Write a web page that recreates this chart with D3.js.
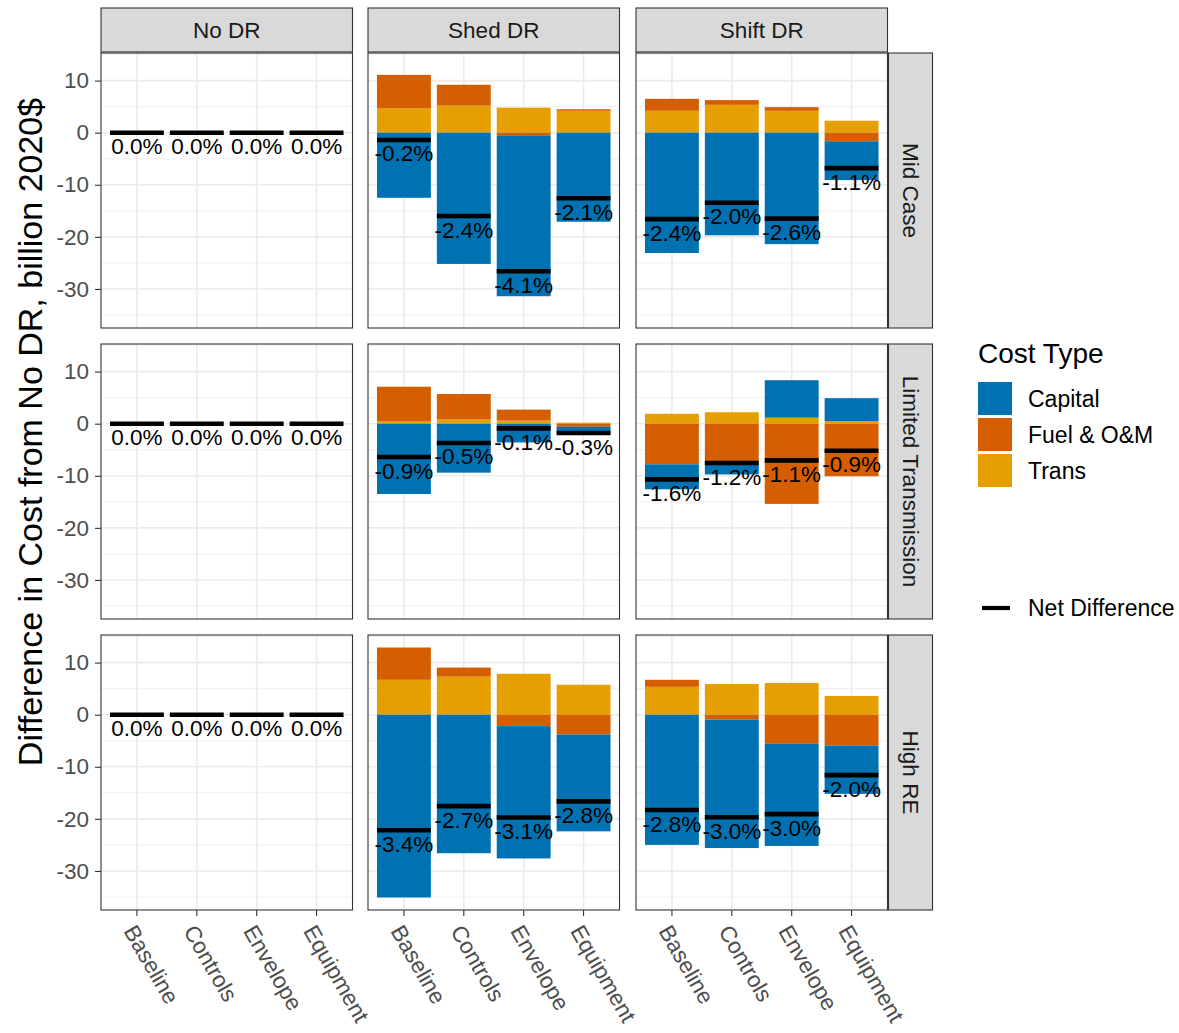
<!DOCTYPE html>
<html>
<head>
<meta charset="utf-8">
<script src="https://cdn.jsdelivr.net/npm/d3@7"></script>
<style>
  html, body { margin: 0; padding: 0; background: #ffffff; }
  svg { display: block; font-family: "Liberation Sans", Arial, sans-serif; }
</style>
</head>
<body>
<svg id="chart" width="1179" height="1033"></svg>
<script>
// Facet rows / columns and the measure categories on the x axis
const scenarios = ["Mid Case", "Limited Transmission", "High RE"];
const drTypes = ["No DR", "Shed DR", "Shift DR"];
const measures = ["Baseline", "Controls", "Envelope", "Equipment"];
const costTypes = ["Capital", "Fuel & O&M", "Trans"];
const costColors = ["#0072B2", "#D55E00", "#E69F00"];
const yTicks = [-30, -20, -10, 0, 10];

// Cost differences (billion 2020$), indexed [scenario][drType][measure]
const capital = [
  [[0, 0, 0, 0], [-12.5, -25.2, -30.9, -17.1], [-23.1, -19.7, -21.4, -7.45]],
  [[0, 0, 0, 0], [-13.5, -9.4, -3.6, -1.4], [-4.8, -2.45, 7.2, 4.4]],
  [[0, 0, 0, 0], [-35.1, -26.6, -25.4, -18.6], [-25.0, -24.65, -19.6, -9.3]]
];
const fuelOM = [
  [[0, 0, 0, 0], [6.4, 4.0, -0.5, 0.3], [2.3, 0.9, 0.7, -1.65]],
  [[0, 0, 0, 0], [6.6, 4.9, 2.1, -0.6], [-7.8, -7.3, -15.4, -10.1]],
  [[0, 0, 0, 0], [6.2, 1.75, -2.2, -3.8], [1.35, -0.95, -5.6, -5.9]]
];
const trans = [
  [[0, 0, 0, 0], [4.7, 5.2, 4.8, 4.2], [4.2, 5.35, 4.2, 2.3]],
  [[0, 0, 0, 0], [0.5, 0.8, 0.6, 0.2], [1.9, 2.2, 1.15, 0.5]],
  [[0, 0, 0, 0], [6.7, 7.3, 7.85, 5.75], [5.35, 5.9, 6.1, 3.6]]
];
// Net difference as a share of total system cost (%)
const netPercent = [
  [[0.0, 0.0, 0.0, 0.0], [-0.2, -2.4, -4.1, -2.1], [-2.4, -2.0, -2.6, -1.1]],
  [[0.0, 0.0, 0.0, 0.0], [-0.9, -0.5, -0.1, -0.3], [-1.6, -1.2, -1.1, -0.9]],
  [[0.0, 0.0, 0.0, 0.0], [-3.4, -2.7, -3.1, -2.8], [-2.8, -3.0, -3.0, -2.0]]
];

const svg = d3.select("#chart");
const FONT = "'Liberation Sans', Arial, sans-serif";

// Facet grid geometry
const colX = [101, 368, 636];
const rowY = [53, 344, 635];
const panelW = 251.5;
const panelH = 275;
const stripSize = 44;

const x = d3.scaleBand().domain(measures).range([0, panelW])
  .paddingInner(0.1).paddingOuter(0.15);
const y = d3.scaleLinear().domain([-37.5, 15.3]).range([panelH, 0]);
const color = d3.scaleOrdinal().domain(costTypes).range(costColors);

// Stack order: Trans nearest zero, then Fuel & O&M, then Capital
const stack = d3.stack()
  .keys(["Trans", "Fuel & O&M", "Capital"])
  .offset(d3.stackOffsetDiverging);

const minorTicks = d3.range(-35, 16, 10);

scenarios.forEach((scen, r) => {
  drTypes.forEach((dr, c) => {
    const g = svg.append("g").attr("transform", `translate(${colX[c]},${rowY[r]})`);

    g.append("rect").attr("width", panelW).attr("height", panelH).attr("fill", "#ffffff");

    // grid
    g.selectAll(".minor").data(minorTicks).join("line")
      .attr("x1", 0).attr("x2", panelW)
      .attr("y1", d => y(d)).attr("y2", d => y(d))
      .attr("stroke", "#EBEBEB").attr("stroke-width", 0.8);
    g.selectAll(".major").data(yTicks).join("line")
      .attr("x1", 0).attr("x2", panelW)
      .attr("y1", d => y(d)).attr("y2", d => y(d))
      .attr("stroke", "#EBEBEB").attr("stroke-width", 1.6);
    g.selectAll(".vmajor").data(measures).join("line")
      .attr("x1", d => x(d) + x.bandwidth() / 2).attr("x2", d => x(d) + x.bandwidth() / 2)
      .attr("y1", 0).attr("y2", panelH)
      .attr("stroke", "#EBEBEB").attr("stroke-width", 1.6);

    const rows = measures.map((m, i) => ({
      measure: m,
      "Capital": capital[r][c][i],
      "Fuel & O&M": fuelOM[r][c][i],
      "Trans": trans[r][c][i],
      pct: netPercent[r][c][i]
    }));
    rows.forEach(d => { d.net = d["Capital"] + d["Fuel & O&M"] + d["Trans"]; });

    const series = stack(rows);
    series.forEach(s => {
      g.append("g").selectAll("rect").data(s).join("rect")
        .attr("x", d => x(d.data.measure))
        .attr("width", x.bandwidth())
        .attr("y", d => y(Math.max(d[0], d[1])))
        .attr("height", d => Math.abs(y(d[0]) - y(d[1])))
        .attr("fill", color(s.key));
    });

    // net difference marker
    g.selectAll(".net").data(rows).join("line")
      .attr("x1", d => x(d.measure)).attr("x2", d => x(d.measure) + x.bandwidth())
      .attr("y1", d => y(d.net)).attr("y2", d => y(d.net))
      .attr("stroke", "#000000").attr("stroke-width", 4.6);

    g.selectAll(".pct").data(rows).join("text")
      .attr("x", d => x(d.measure) + x.bandwidth() / 2)
      .attr("y", d => y(d.net) + 21.5)
      .attr("text-anchor", "middle")
      .attr("font-size", 22.5)
      .attr("fill", "#000000")
      .text(d => d.pct.toFixed(1) + "%");

    g.append("rect").attr("width", panelW).attr("height", panelH)
      .attr("fill", "none").attr("stroke", "#333333").attr("stroke-width", 1.1);

    // y axis on the first column
    if (c === 0) {
      const ax = g.append("g").call(d3.axisLeft(y).tickValues(yTicks).tickSize(6).tickPadding(6)
        .tickFormat(d => String(d)));
      ax.select(".domain").remove();
      ax.selectAll(".tick line").attr("stroke", "#333333").attr("stroke-width", 1.1);
      ax.selectAll(".tick text").attr("fill", "#4D4D4D").attr("font-size", 22.5)
        .attr("font-family", FONT);
    }

    // x axis on the bottom row
    if (r === scenarios.length - 1) {
      const ax = g.append("g").attr("transform", `translate(0,${panelH})`)
        .call(d3.axisBottom(x).tickSize(6).tickPadding(0));
      ax.select(".domain").remove();
      ax.selectAll(".tick line").attr("stroke", "#333333").attr("stroke-width", 1.1);
      ax.selectAll(".tick text")
        .attr("fill", "#4D4D4D").attr("font-size", 22.5)
        .attr("font-family", FONT)
        .attr("text-anchor", "start")
        .attr("dy", null)
        .attr("y", 0)
        .attr("dominant-baseline", "hanging")
        .attr("transform", "translate(0,13) rotate(60)");
    }
  });
});

// top strips
drTypes.forEach((dr, c) => {
  svg.append("rect").attr("x", colX[c]).attr("y", rowY[0] - stripSize - 1)
    .attr("width", panelW).attr("height", stripSize)
    .attr("fill", "#D9D9D9").attr("stroke", "#333333").attr("stroke-width", 1.1);
  svg.append("text").attr("x", colX[c] + panelW / 2).attr("y", rowY[0] - 1 - stripSize / 2)
    .attr("text-anchor", "middle").attr("dominant-baseline", "central")
    .attr("font-size", 22.5).attr("fill", "#1A1A1A").text(dr);
});

// right strips
scenarios.forEach((scen, r) => {
  const sx = colX[2] + panelW + 1;
  svg.append("rect").attr("x", sx).attr("y", rowY[r])
    .attr("width", stripSize).attr("height", panelH)
    .attr("fill", "#D9D9D9").attr("stroke", "#333333").attr("stroke-width", 1.1);
  svg.append("text")
    .attr("transform", `translate(${sx + stripSize / 2},${rowY[r] + panelH / 2}) rotate(90)`)
    .attr("text-anchor", "middle").attr("dominant-baseline", "central")
    .attr("font-size", 22.5).attr("fill", "#1A1A1A").text(scen);
});

// y axis title
svg.append("text")
  .attr("transform", "translate(42,432) rotate(-90)")
  .attr("text-anchor", "middle")
  .attr("font-size", 34).attr("fill", "#000000")
  .text("Difference in Cost from No DR, billion 2020$");

// legend
const leg = svg.append("g");
leg.append("text").attr("x", 978).attr("y", 363).attr("font-size", 28).attr("fill", "#000000").text("Cost Type");
costTypes.forEach((ct, i) => {
  leg.append("rect").attr("x", 978).attr("y", 382 + i * 36).attr("width", 34).attr("height", 33)
    .attr("fill", color(ct));
  leg.append("text").attr("x", 1028).attr("y", 382 + i * 36 + 17)
    .attr("dominant-baseline", "central").attr("font-size", 23).attr("fill", "#000000").text(ct);
});
leg.append("line").attr("x1", 982).attr("x2", 1010).attr("y1", 608).attr("y2", 608)
  .attr("stroke", "#000000").attr("stroke-width", 4.2);
leg.append("text").attr("x", 1028).attr("y", 608).attr("dominant-baseline", "central")
  .attr("font-size", 23).attr("fill", "#000000").text("Net Difference");
</script>
</body>
</html>
